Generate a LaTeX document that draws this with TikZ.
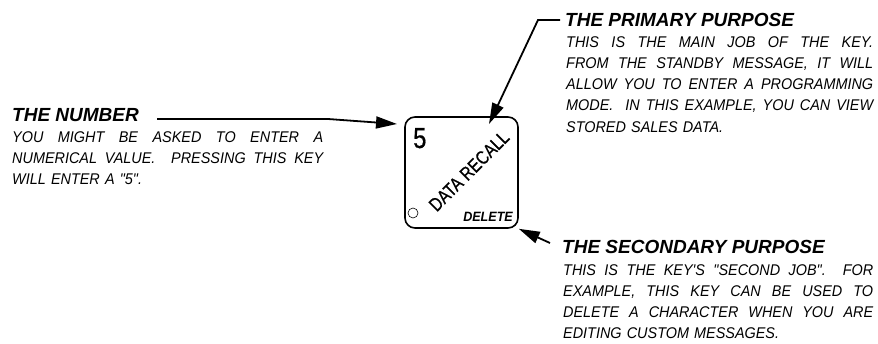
\documentclass[tikz,border=0pt]{standalone}
\usepackage{fontspec}
\setmainfont{Liberation Sans}
\newfontfamily\narrowfont[FakeStretch=0.93]{Liberation Sans}
\newfontfamily\condfont[FakeStretch=0.82,FakeBold=0.6]{Liberation Sans}
\usetikzlibrary{arrows.meta,positioning}

\tikzset{
  pointer/.style={line width=1.8pt,-{Triangle[length=21pt,width=12pt]}},
  headtext/.style={anchor=base west,inner sep=0pt,font=\fontsize{19}{19}\selectfont\bfseries\itshape},
  bodytext/.style={anchor=base west,inner sep=0pt,align=left,font=\narrowfont\fontsize{15.5}{21.3}\selectfont\itshape},
  keybox/.style={draw,line width=1.6pt,rounded corners=10pt,minimum width=113pt,minimum height=111pt,inner sep=0pt}
}
% a justified line of given width
\newcommand{\fullline}[2]{\hbox to #1{\spaceskip=\fontdimen2\font plus 1fil minus 0.3\fontdimen2\font\xspaceskip=\spaceskip #2}}

\begin{document}
\begin{tikzpicture}[x=1pt,y=-1pt]
	\useasboundingbox (0,0) rectangle (878,343);
	% the key
	\node (key) [keybox] at (461.5,172.5) {};
	\node (digit) at (413,148) [anchor=base west,inner sep=0pt] {{\condfont\fontsize{29}{29}\selectfont 5}};
	\node (recall) at (469,171) [rotate=45,inner sep=0pt] {{\condfont\fontsize{19}{19}\selectfont DATA RECALL}};
	\node (led) at (413,213) [draw,circle,line width=0.6pt,minimum size=10pt,inner sep=0pt] {};
	\node (shift) at (513,221.5) [anchor=base east,inner sep=0pt] {{\narrowfont\fontsize{13.5}{13.5}\selectfont\bfseries\itshape DELETE}};
	% the number
	\node (numhead) at (12,121) [headtext] {THE NUMBER};
	\node (numbody) at (12,142) [bodytext,text width=311pt] {%
		\fullline{311pt}{YOU MIGHT BE ASKED TO ENTER A}
		\fullline{311pt}{NUMERICAL VALUE.\ \ PRESSING THIS KEY}
		WILL ENTER A "5".};
	\coordinate (numtail) at (157,119);
	\coordinate (numbend) at (328,119);
	\coordinate (numtip) at (397,124);
	\draw[pointer] (numtail) -- (numbend) -- (numtip);
	% the primary purpose
	\node (primhead) at (565,26) [headtext] {THE PRIMARY PURPOSE};
	\node (primbody) at (566,47) [bodytext,text width=307pt] {%
		\fullline{307pt}{THIS IS THE MAIN JOB OF THE KEY.}
		\fullline{307pt}{FROM THE STANDBY MESSAGE, IT WILL}
		\fullline{307pt}{ALLOW YOU TO ENTER A PROGRAMMING}
		\fullline{307pt}{MODE.\ \ IN THIS EXAMPLE, YOU CAN VIEW}
		STORED SALES DATA.};
	\coordinate (primtail) at (560,20);
	\coordinate (primbend) at (538,20);
	\coordinate (primtip) at (489,124);
	\draw[pointer] (primtail) -- (primbend) -- (primtip);
	% the secondary purpose
	\node (sechead) at (562,253) [headtext] {THE SECONDARY PURPOSE};
	\node (secbody) at (563,275) [bodytext,text width=310pt] {%
		\fullline{310pt}{THIS IS THE KEY'S "SECOND JOB".\ \ FOR}
		\fullline{310pt}{EXAMPLE, THIS KEY CAN BE USED TO}
		\fullline{310pt}{DELETE A CHARACTER WHEN YOU ARE}
		EDITING CUSTOM MESSAGES.};
	\coordinate (sectail) at (550,243);
	\draw[pointer] (sectail) -- (key.south east);
\end{tikzpicture}
\end{document}
